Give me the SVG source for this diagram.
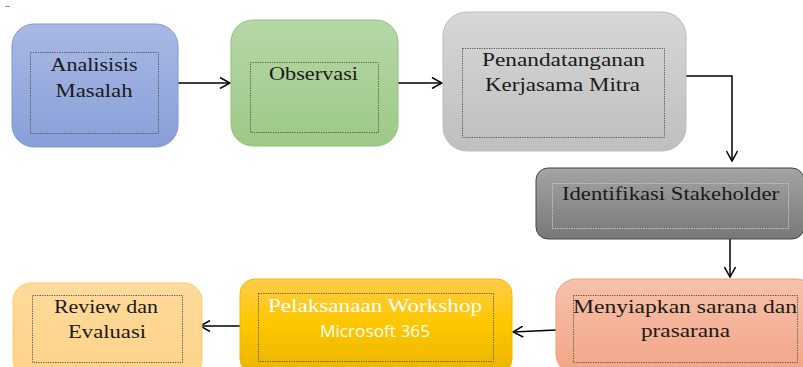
<svg xmlns="http://www.w3.org/2000/svg" width="803" height="367" viewBox="0 0 803 367">
<defs>
<linearGradient id="gBlue" x1="0" y1="0" x2="0" y2="1"><stop offset="0" stop-color="#a9b9e3"/><stop offset="1" stop-color="#889fd8"/></linearGradient>
<linearGradient id="gGreen" x1="0" y1="0" x2="0" y2="1"><stop offset="0" stop-color="#b6d7a6"/><stop offset="1" stop-color="#9dc986"/></linearGradient>
<linearGradient id="gGray" x1="0" y1="0" x2="0" y2="1"><stop offset="0" stop-color="#d7d7d7"/><stop offset="1" stop-color="#bfbfbf"/></linearGradient>
<linearGradient id="gDark" x1="0" y1="0" x2="0" y2="1"><stop offset="0" stop-color="#a4a4a4"/><stop offset="1" stop-color="#777777"/></linearGradient>
<linearGradient id="gSalmon" x1="0" y1="0" x2="0" y2="1"><stop offset="0" stop-color="#f6c1aa"/><stop offset="1" stop-color="#f3a586"/></linearGradient>
<linearGradient id="gGold" x1="0" y1="0" x2="0" y2="1"><stop offset="0" stop-color="#ffcc4a"/><stop offset="0.45" stop-color="#ffc800"/><stop offset="1" stop-color="#eab400"/></linearGradient>
<linearGradient id="gPeach" x1="0" y1="0" x2="0" y2="1"><stop offset="0" stop-color="#ffda9c"/><stop offset="1" stop-color="#ffd388"/></linearGradient>
<marker id="arr" viewBox="0 0 12 12" refX="11" refY="6" markerWidth="12" markerHeight="12" markerUnits="userSpaceOnUse" orient="auto">
<path d="M1,0.5 L11,6 L1,11.5" fill="none" stroke="#000" stroke-width="1.5"/>
</marker>
<style>
.t{font-family:"Liberation Serif","Times New Roman",serif;font-size:19.5px;fill:#1a1a1a;}
.w{fill:#ffffff;}
.s{font-family:"Open Sans","Liberation Sans",sans-serif;font-size:16px;fill:#ffffff;}
.dot{fill:none;stroke:#555;stroke-width:1;stroke-dasharray:1.2 1.2;}
.dotl{fill:none;stroke:#d0d0d0;stroke-width:1;stroke-dasharray:1.2 1.2;}
.c{fill:none;stroke:#000;stroke-width:1.5;marker-end:url(#arr);}
</style>
</defs>
<line x1="5" y1="6.5" x2="10" y2="6.5" stroke="#999" stroke-width="1"/>
<g id="connectors">
<path class="c" d="M178,83 H230"/>
<path class="c" d="M398,83 H442"/>
<path class="c" d="M686,76 H732 V161"/>
<path class="c" d="M730,239 V277"/>
<path class="c" d="M556,330 L513,332"/>
<path class="c" d="M240,326 H200"/>
</g>
<g id="n1">
<rect x="12" y="24" width="166" height="123" rx="22" fill="url(#gBlue)" stroke="#7e98d4" stroke-width="1"/>
<rect class="dot" x="30.5" y="52.5" width="128" height="81"/>
<text class="t" x="94" y="71" text-anchor="middle" textLength="87" lengthAdjust="spacingAndGlyphs">Analisisis</text>
<text class="t" x="94" y="97" text-anchor="middle" textLength="77" lengthAdjust="spacingAndGlyphs">Masalah</text>
</g>
<g id="n2">
<rect x="231" y="20" width="167" height="126" rx="22" fill="url(#gGreen)" stroke="#8fc27a" stroke-width="1"/>
<rect class="dot" x="250.5" y="62.5" width="128" height="70"/>
<text class="t" x="313.5" y="80" text-anchor="middle" textLength="89" lengthAdjust="spacingAndGlyphs">Observasi</text>
</g>
<g id="n3">
<rect x="443" y="12" width="243" height="139" rx="24" fill="url(#gGray)" stroke="#bdbdbd" stroke-width="1"/>
<rect class="dot" x="462.5" y="48.5" width="202" height="89"/>
<text class="t" x="563.5" y="66" text-anchor="middle" textLength="163" lengthAdjust="spacingAndGlyphs">Penandatanganan</text>
<text class="t" x="562.5" y="91" text-anchor="middle" textLength="155" lengthAdjust="spacingAndGlyphs">Kerjasama Mitra</text>
</g>
<g id="n4">
<rect x="536" y="168" width="268" height="71" rx="12" fill="url(#gDark)" stroke="#474747" stroke-width="1"/>
<rect class="dotl" x="552.5" y="183.5" width="236" height="45"/>
<text class="t" x="670.5" y="200" text-anchor="middle" textLength="217" lengthAdjust="spacingAndGlyphs">Identifikasi Stakeholder</text>
</g>
<g id="n5">
<rect x="556" y="279" width="260" height="95" rx="20" fill="url(#gSalmon)" stroke="#f09e7c" stroke-width="1"/>
<rect class="dot" x="573.5" y="295.5" width="224" height="67"/>
<text class="t" x="685" y="313" text-anchor="middle" textLength="224" lengthAdjust="spacingAndGlyphs">Menyiapkan sarana dan</text>
<text class="t" x="685.5" y="337" text-anchor="middle" textLength="89" lengthAdjust="spacingAndGlyphs">prasarana</text>
</g>
<g id="n6">
<rect x="240" y="279" width="272" height="95" rx="15" fill="url(#gGold)" stroke="#f0b800" stroke-width="1"/>
<rect class="dot" x="258.5" y="293.5" width="235" height="68"/>
<text class="t w" x="375" y="312" text-anchor="middle" textLength="214" lengthAdjust="spacingAndGlyphs">Pelaksanaan Workshop</text>
<text class="s" x="375" y="337" text-anchor="middle" textLength="110" lengthAdjust="spacingAndGlyphs">Microsoft 365</text>
</g>
<g id="n7">
<rect x="13" y="283" width="189" height="95" rx="18" fill="url(#gPeach)" stroke="#ffcb62" stroke-width="1"/>
<rect class="dot" x="32.5" y="295.5" width="150" height="67"/>
<text class="t" x="106" y="313" text-anchor="middle" textLength="104" lengthAdjust="spacingAndGlyphs">Review dan</text>
<text class="t" x="107" y="338" text-anchor="middle" textLength="78" lengthAdjust="spacingAndGlyphs">Evaluasi</text>
</g>
</svg>
